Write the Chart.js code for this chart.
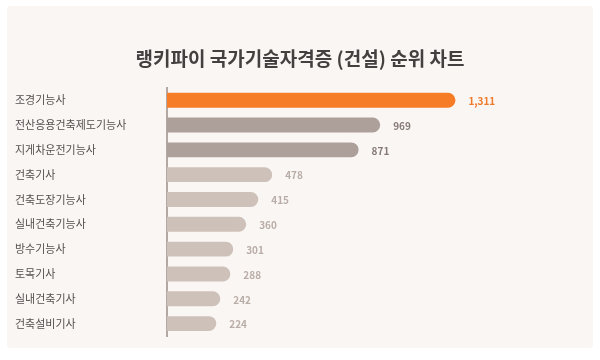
<!DOCTYPE html>
<html>
<head>
<meta charset="utf-8">
<script src="https://cdn.jsdelivr.net/npm/chart.js@4"></script>
<style>
    body { margin: 0; background: #ffffff; }
    #tarjeta {
        position: absolute; left: 7px; top: 6px; width: 586px; height: 342px;
        background: #faf6f4; border-radius: 3px;
    }
    #contenedor { position: absolute; left: 0; top: 0; width: 600px; height: 360px; }
</style>
</head>
<body>
<div id="tarjeta"></div>
<div id="contenedor"><canvas id="ranking"></canvas></div>
<script>
var categorias = ['조경기능사', '전산응용건축제도기능사', '지게차운전기능사', '건축기사', '건축도장기능사',
    '실내건축기능사', '방수기능사', '토목기사', '실내건축기사', '건축설비기사'];
var valores = [1311, 969, 871, 478, 415, 360, 301, 288, 242, 224];

var coloresBarra = ['#f67c28', '#ad9f99', '#ad9f99', '#cec1b9', '#cec1b9', '#cec1b9', '#cec1b9', '#cec1b9', '#cec1b9', '#cec1b9'];
var coloresTexto = ['#ee7a2c', '#857a75', '#857a75', '#b9ada7', '#b9ada7', '#b9ada7', '#b9ada7', '#b9ada7', '#b9ada7', '#b9ada7'];

var fuente = "'Noto Sans CJK KR', 'Noto Sans', sans-serif";

// etiquetas de valor al final de cada barra
var etiquetasValor = {
    id: 'etiquetasValor',
    afterDatasetsDraw: function (chart) {
        var ctx = chart.ctx;
        var meta = chart.getDatasetMeta(0);
        ctx.save();
        ctx.font = 'bold 10px ' + fuente;
        ctx.textBaseline = 'middle';
        ctx.textAlign = 'left';
        meta.data.forEach(function (barra, i) {
            ctx.fillStyle = coloresTexto[i];
            ctx.fillText(valores[i].toLocaleString('en-US'), barra.x + 13, barra.y + 1);
        });
        ctx.restore();
    }
};

var ctx = document.getElementById('ranking');
new Chart(ctx, {
    type: 'bar',
    data: {
        labels: categorias,
        datasets: [{
            data: valores,
            backgroundColor: coloresBarra,
            borderRadius: 8,
            borderSkipped: 'start',
            barPercentage: 0.6,
            categoryPercentage: 1
        }]
    },
    options: {
        indexAxis: 'y',
        responsive: true,
        maintainAspectRatio: false,
        animation: false,
        layout: { padding: { left: 15, right: 15, top: 0, bottom: 24 } },
        plugins: {
            legend: { display: false },
            tooltip: { enabled: false },
            title: {
                display: true,
                text: '랭키파이 국가기술자격증 (건설) 순위 차트',
                color: '#444040',
                font: { family: fuente, size: 19, weight: 'bold' },
                padding: { top: 47, bottom: 18 }
            }
        },
        scales: {
            x: {
                display: false,
                min: 0,
                max: 1900
            },
            y: {
                grid: { display: false },
                border: { display: true, color: '#b3a8a3', width: 2 },
                ticks: {
                    crossAlign: 'far',
                    color: '#555050',
                    font: { family: fuente, size: 11 }
                },
                afterFit: function (scale) {
                    scale.width = 152;
                }
            }
        }
    },
    plugins: [etiquetasValor]
});
</script>
</body>
</html>
